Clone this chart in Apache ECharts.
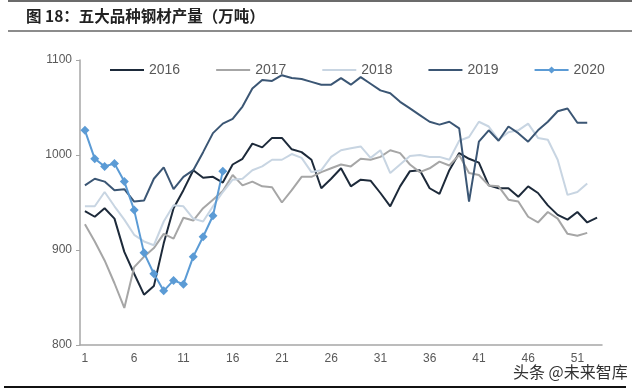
<!DOCTYPE html>
<html>
<head>
<meta charset="utf-8">
<script src="https://cdn.jsdelivr.net/npm/echarts@6/dist/echarts.min.js"></script>
<style>
html,body{margin:0;padding:0;background:#fff;}
#chart{width:640px;height:392px;}
</style>
</head>
<body>
<div id="chart"></div>
<script>
const weeks = Array.from({length: 53}, (_, i) => String(i + 1));
const yTicks = [800, 900, 1000, 1100];
const s2016 = [941,935,944,933,898,875,853,862,907,944,963,984,976,977,971,990,996,1012,1008,1018,1018,1006,1003,995,965,975,986,967,974,973,960,946,967,983,984,965,959,984,1002,996,992,968,965,965,956,967,960,947,937,932,940,929,934];
const s2017 = [927,909,889,865,839,882,893,902,917,912,934,931,944,953,962,979,968,972,967,966,950,963,977,977,982,986,990,988,996,995,998,1005,1002,990,982,986,993,989,1000,981,979,968,967,953,951,935,929,940,933,917,915,918];
const s2018 = [946,946,961,946,932,916,909,905,930,947,946,933,930,946,961,974,975,984,988,995,995,1001,997,982,984,998,1005,1007,1009,997,1005,981,990,999,1000,998,998,995,1015,1019,1035,1030,1016,1024,1026,1033,1018,1016,995,958,961,970];
const s2019 = [968,975,972,963,964,951,952,975,987,964,977,984,1003,1023,1033,1038,1051,1070,1079,1078,1084,1081,1080,1077,1074,1074,1081,1074,1082,1075,1068,1065,1056,1049,1042,1035,1032,1035,1028,951,1014,1026,1015,1030,1023,1014,1026,1035,1046,1049,1034,1034];
const s2020 = [1026,996,988,991,972,942,897,875,857,868,864,893,914,936,983];
const seriesNames = ['2016','2017','2018','2019','2020'];
const seriesColors = ['#1d2a3a','#a6a6a6','#c8d5e2','#3b5674','#5b9bd5'];

const chart = echarts.init(document.getElementById('chart'), null, {renderer: 'canvas'});
const font = 'Liberation Sans, Arial, sans-serif';
const lineSeries = [s2016, s2017, s2018, s2019].map((d, i) => ({
  name: seriesNames[i], type: 'line', data: d, symbol: 'none',
  lineStyle: {color: seriesColors[i], width: 2}, itemStyle: {color: seriesColors[i]},
  animation: false
}));
lineSeries.push({
  name: '2020', type: 'line', data: s2020, symbol: 'diamond', symbolSize: 9,
  showSymbol: true, showAllSymbol: true,
  lineStyle: {color: seriesColors[4], width: 2}, itemStyle: {color: seriesColors[4]},
  animation: false
});

chart.setOption({
  animation: false,
  backgroundColor: '#fff',
  title: {
    text: '图 18：五大品种钢材产量（万吨）',
    left: 21, top: 3,
    textStyle: {fontSize: 15.5, fontWeight: 'bold', color: '#222', fontFamily: 'Noto Sans CJK SC'}
  },
  graphic: [
    {type: 'rect', shape: {x: 8, y: 0, width: 624, height: 2}, style: {fill: '#6b6b6b'}},
    {type: 'rect', shape: {x: 8, y: 30, width: 624, height: 2}, style: {fill: '#8c8c8c'}},
    {type: 'rect', shape: {x: 4, y: 386, width: 622, height: 2}, style: {fill: '#111'}},
    {type: 'text', left: 512, top: 363, z: 100,
     style: {text: '头条 @未来智库', fontSize: 16, fill: '#333', fontFamily: 'Noto Sans CJK SC', stroke: '#fff', lineWidth: 2}}
  ],
  legend: {
    data: seriesNames.map((n, i) => i < 4 ? {name: n, itemStyle: {opacity: 0}} : {name: n}),
    left: 104, top: 58,
    itemWidth: 34, itemHeight: 9, itemGap: 35,
    textStyle: {fontSize: 14, color: '#595959', fontFamily: font}
  },
  grid: {left: 80, right: 38, top: 60, bottom: 47},
  xAxis: {
    type: 'category', data: weeks, boundaryGap: true,
    axisLine: {lineStyle: {color: '#a6a6a6', width: 1.5}},
    axisTick: {show: false},
    axisLabel: {interval: 4, color: '#595959', fontSize: 12, fontFamily: font, margin: 8},
    splitLine: {show: false}
  },
  yAxis: {
    type: 'value', min: yTicks[0], max: yTicks[yTicks.length - 1], interval: 100,
    axisLine: {show: true, lineStyle: {color: '#a6a6a6', width: 1.5}},
    axisTick: {show: true, length: 4, lineStyle: {color: '#a6a6a6'}},
    axisLabel: {color: '#595959', fontSize: 12, fontFamily: font, margin: 8, formatter: v => String(v)},
    splitLine: {show: false}
  },
  series: lineSeries
});
</script>
</body>
</html>
